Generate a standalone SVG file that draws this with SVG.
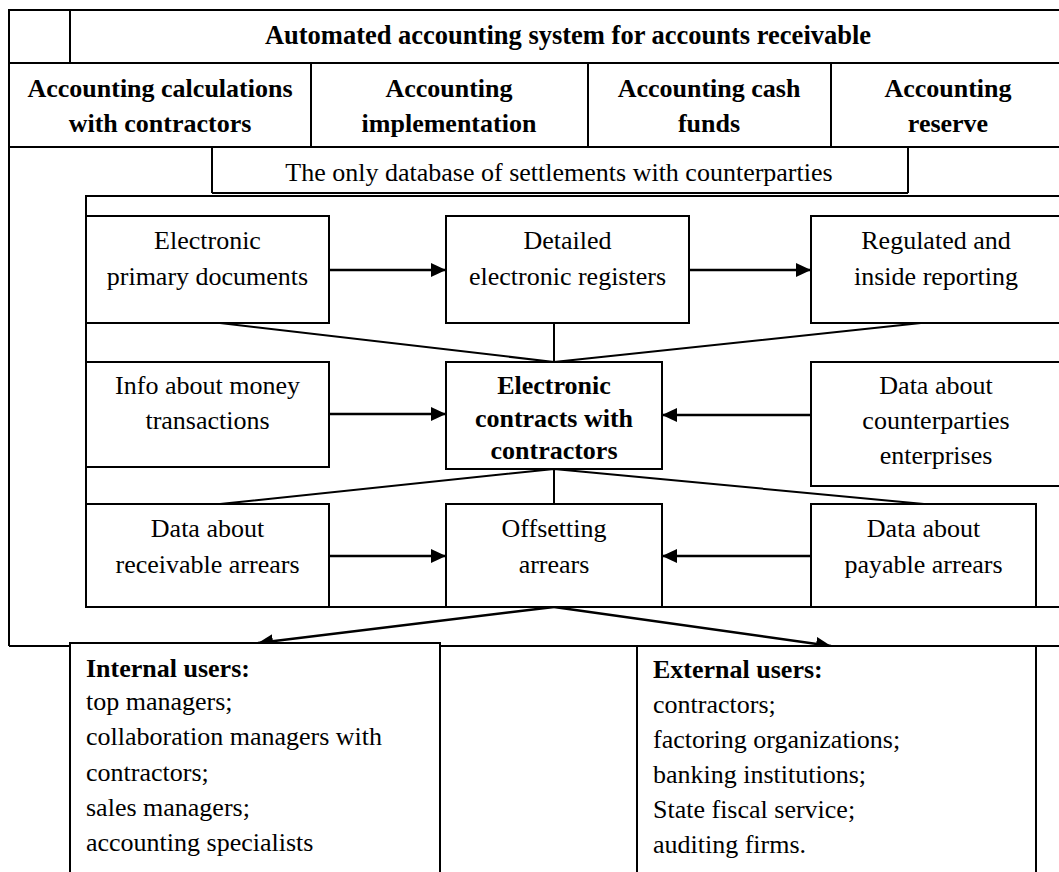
<svg xmlns="http://www.w3.org/2000/svg" width="1059" height="872" viewBox="0 0 1059 872">
<defs>
<marker id="ah" viewBox="0 0 15 14" refX="15" refY="7" markerWidth="15" markerHeight="14" markerUnits="userSpaceOnUse" orient="auto">
<path d="M0,0 L15,7 L0,14 z" fill="#000"/>
</marker>
<style>
text{font-family:"Liberation Serif","Times New Roman",serif;font-size:26px;fill:#000}
.b{font-weight:bold}
.c{text-anchor:middle}
.ln{stroke:#000;stroke-width:2;fill:none}
.box{stroke:#000;stroke-width:2;fill:#fff}
.con{stroke:#000;stroke-width:2;fill:none}
.arr{stroke:#000;stroke-width:2.5;fill:none;marker-end:url(#ah)}
</style>
</defs>
<rect width="1059" height="872" fill="#fff"/>

<g id="frame">
<path class="ln" d="M9,646 V10 H1059 M9,63 H1059 M70,10 V63 M9,147 H1059 M311,63 V147 M588,63 V147 M831,63 V147 M212,147 V193 M908,147 V193 M212,193 H908 M9,646 H1059"/>
<path class="ln" d="M1059,196 H86 V607 H1059"/>
</g>

<g id="title">
<text class="b c" x="568" y="44" style="font-size:26.5px">Automated accounting system for accounts receivable</text>
</g>
<g id="calc-contractors">
<text class="b c" x="160" y="97">Accounting calculations</text>
<text class="b c" x="160" y="132">with contractors</text>
</g>
<g id="implementation">
<text class="b c" x="449" y="97">Accounting</text>
<text class="b c" x="449" y="132">implementation</text>
</g>
<g id="cash-funds">
<text class="b c" x="709" y="97">Accounting cash</text>
<text class="b c" x="709" y="132">funds</text>
</g>
<g id="reserve">
<text class="b c" x="948" y="97">Accounting</text>
<text class="b c" x="948" y="132">reserve</text>
</g>
<g id="database">
<text class="c" x="559" y="181">The only database of settlements with counterparties</text>
</g>

<g id="connectors">
<path class="con" d="M220,323 L554,362 M554,323 V362 M921,323 L554,362 M554,469 L220,504 M554,469 V504 M554,469 L924,504"/>
<path class="arr" d="M329,270 H446"/>
<path class="arr" d="M689,270 H811"/>
<path class="arr" d="M329,414 H446"/>
<path class="arr" d="M811,415 H662"/>
<path class="arr" d="M329,556 H446"/>
<path class="arr" d="M811,556 H662"/>
<path class="arr" d="M554,607 L258,643"/>
<path class="arr" d="M554,607 L831,646"/>
</g>

<g id="primary-docs">
<rect class="box" x="86" y="216" width="243" height="107"/>
<text class="c" x="207.5" y="249">Electronic</text>
<text class="c" x="207.5" y="285">primary documents</text>
</g>
<g id="registers">
<rect class="box" x="446" y="216" width="243" height="107"/>
<text class="c" x="567.5" y="249">Detailed</text>
<text class="c" x="567.5" y="285">electronic registers</text>
</g>
<g id="reporting">
<rect class="box" x="811" y="216" width="252" height="107"/>
<text class="c" x="936" y="249">Regulated and</text>
<text class="c" x="936" y="285">inside reporting</text>
</g>
<g id="money">
<rect class="box" x="86" y="362" width="243" height="105"/>
<text class="c" x="207.5" y="394">Info about money</text>
<text class="c" x="207.5" y="429">transactions</text>
</g>
<g id="contracts">
<rect class="box" x="446" y="362" width="216" height="107"/>
<text class="b c" x="554" y="394">Electronic</text>
<text class="b c" x="554" y="427">contracts with</text>
<text class="b c" x="554" y="459">contractors</text>
</g>
<g id="counterparties">
<rect class="box" x="811" y="362" width="252" height="124"/>
<text class="c" x="936" y="394">Data about</text>
<text class="c" x="936" y="429">counterparties</text>
<text class="c" x="936" y="464">enterprises</text>
</g>
<g id="receivable">
<rect class="box" x="86" y="504" width="243" height="103"/>
<text class="c" x="207.5" y="537">Data about</text>
<text class="c" x="207.5" y="573">receivable arrears</text>
</g>
<g id="offsetting">
<rect class="box" x="446" y="504" width="216" height="103"/>
<text class="c" x="554" y="537">Offsetting</text>
<text class="c" x="554" y="573">arrears</text>
</g>
<g id="payable">
<rect class="box" x="811" y="504" width="225" height="103"/>
<text class="c" x="923.5" y="537">Data about</text>
<text class="c" x="923.5" y="573">payable arrears</text>
</g>

<g id="internal-users">
<rect class="box" x="70" y="643" width="370" height="240"/>
<text class="b" x="86" y="677">Internal users:</text>
<text x="86" y="710">top managers;</text>
<text x="86" y="745">collaboration managers with</text>
<text x="86" y="781">contractors;</text>
<text x="86" y="816">sales managers;</text>
<text x="86" y="851">accounting specialists</text>
</g>
<g id="external-users">
<rect class="box" x="637" y="646" width="399" height="240"/>
<text class="b" x="653" y="678">External users:</text>
<text x="653" y="713">contractors;</text>
<text x="653" y="748">factoring organizations;</text>
<text x="653" y="783">banking institutions;</text>
<text x="653" y="818">State fiscal service;</text>
<text x="653" y="853">auditing firms.</text>
</g>
</svg>
